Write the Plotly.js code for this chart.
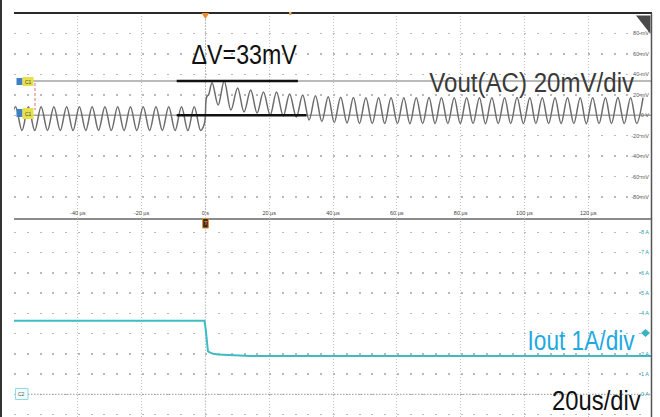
<!DOCTYPE html>
<html><head><meta charset="utf-8">
<script src="https://cdn.plot.ly/plotly-3.0.1.min.js"></script>
<style>html,body{margin:0;padding:0;background:#fff;}#chart{width:660px;height:417px;}</style>
</head><body><div id="chart"></div>
<script>
// ---- data read from the scope capture ----
// Vout (AC) waveform: successive peaks / troughs (µs, mV)
const voutTime = [-61.5,-59.5,-57.5,-55.5,-53.5,-51.5,-49.5,-47.5,-45.5,-43.5,-41.5,-39.5,-37.5,-35.5,-33.5,-31.5,-29.5,-27.5,-25.5,-23.5,-21.5,-19.5,-17.5,-15.5,-13.5,-11.5,-9.5,-7.5,-5.5,-3.5,-1.5,
  -0.3,0.4,1.0,2.1,4.0,5.9,8.0,10.1,12.1,14.2,16.2,18.2,20.3,22.3,24.4,26.4,28.5,30.5,32.5,34.5,36.5,38.5,40.4,42.4,44.4,46.4,48.3,
  50.3,52.3,54.3,56.2,58.2,60.2,62.2,64.1,66.1,68.1,70.1,72.0,74.0,76.0,78.0,79.9,81.9,83.9,85.9,87.8,89.8,91.8,93.8,95.7,97.7,99.7,
  101.7,103.6,105.6,107.6,109.6,111.5,113.5,115.5,117.5,119.4,121.4,123.4,125.4,127.3,129.3,131.3,133.3,135.2,137.2,139.2,141.2];
const voutMv = [-14.9,8.4,-14.9,8.2,-15.0,8.4,-14.8,8.3,-14.9,8.4,-15.0,8.3,-14.9,8.4,-14.8,8.4,-14.9,8.3,-15.0,8.4,-14.9,8.2,-14.9,8.4,-14.8,8.3,-14.9,8.4,-15.0,8.4,-14.9,
  -8.0,18.0,20.0,31.8,10.0,33.5,5.1,26.7,3.2,24.7,2.2,22.7,0.2,22.7,-0.7,20.8,-1.7,19.8,-4.6,19.0,-6.0,18.2,-7.0,17.6,-7.6,17.3,-8.0,
  17.2,-8.1,17.2,-8.1,17.1,-8.1,17.2,-8.2,17.2,-8.1,17.3,-8.1,17.2,-8.0,17.2,-8.1,17.1,-8.1,17.2,-8.2,17.2,-8.1,17.2,-8.1,17.3,-8.1,
  17.2,-8.1,17.2,-8.0,17.2,-8.1,17.1,-8.1,17.2,-8.2,17.2,-8.1,17.2,-8.1,17.3,-8.1,17.2,-8.1,17.2];
// Iout waveform (µs, A)
const ioutTime = [-60,-0.3,0.1,0.4,0.8,1.4,2.4,4,7,10,14,140];
const ioutAmp  = [3.63,3.63,3.2,2.5,2.12,2.07,2.0,1.97,1.94,1.91,1.89,1.89];
// axis ticks
const timeTicks = [-60,-40,-20,0,20,40,60,80,100,120,140];
const timeTickText = ['','-40 µs','-20 µs','0 s','20 µs','40 µs','60 µs','80 µs','100 µs','120 µs',''];
const voltTicks = [-80,-60,-40,-20,0,20,40,60,80];
const voltTickText = ['-80 mV','-60 mV','-40 mV','-20 mV','0 V','20 mV','40 mV','60 mV','80 mV'];
const ampTicks = [-1,0,1,2,3,4,5,6,7,8];
const ampTickText = ['-1 A','0 A','1 A','2 A','','4 A','5 A','6 A','7 A','8 A'];
// cursor levels (mV) and ΔV bar extents (µs)
const cursorLevels = [33.5, 0];
const deltaBarStart = [-9.0, -9.0];
const deltaBarEnd = [29.0, 31.7];

// ---- layout helpers (pixel -> paper) ----
const PX = x => (x - 14) / 638;
const PY = y => (417 - y) / 404;
const BIG = 'Liberation Sans, Arial, sans-serif';
const SMALL = 'Liberation Sans, Arial, sans-serif';

const traces = [
  {x: voutTime, y: voutMv, xaxis: 'x', yaxis: 'y', type: 'scatter', mode: 'lines',
   line: {color: '#6c6c6c', width: 1.5, shape: 'spline', smoothing: 1}, hoverinfo: 'skip'},
  {x: ioutTime, y: ioutAmp, xaxis: 'x2', yaxis: 'y2', type: 'scatter', mode: 'lines',
   line: {color: '#3dbcc4', width: 2, shape: 'linear'}, hoverinfo: 'skip'}
];

const vGrid = {showgrid: true, gridcolor: '#c4c4c4', gridwidth: 1, griddash: '1px,2px'};
const hGridDash = '2px,10.76px';

const layout = {
  width: 660, height: 417,
  margin: {l: 14, r: 8, t: 13, b: 0},
  paper_bgcolor: '#ffffff', plot_bgcolor: '#ffffff',
  showlegend: false,
  xaxis: Object.assign({domain: [0, 1], anchor: 'y', range: [-60, 140], tickvals: timeTicks, ticktext: timeTickText,
    ticks: '', ticklabelposition: 'inside', tickfont: {family: SMALL, size: 5.5, color: '#444'},
    showline: true, linecolor: '#8c8c8c', linewidth: 2, zeroline: false, fixedrange: true}, vGrid),
  xaxis2: Object.assign({domain: [0, 1], anchor: 'y2', matches: 'x', range: [-60, 140], tickvals: timeTicks,
    showticklabels: false, ticks: '', showline: false, zeroline: false, fixedrange: true}, vGrid),
  yaxis: {domain: [0.4938, 1], anchor: 'x', range: [-100, 100], tickvals: voltTicks, ticktext: voltTickText,
    side: 'right', ticks: '', ticklabelposition: 'inside', tickfont: {family: SMALL, size: 5.5, color: '#555'},
    showgrid: true, gridcolor: '#b8b8b8', gridwidth: 1.5, griddash: hGridDash, zeroline: false, showline: false, fixedrange: true},
  yaxis2: {domain: [0, 0.4926], anchor: 'x2', range: [-1.121, 8.706], tickvals: ampTicks, ticktext: ampTickText,
    side: 'right', ticks: '', ticklabelposition: 'inside', tickfont: {family: SMALL, size: 5.5, color: '#2a9fae'},
    showgrid: true, gridcolor: '#b8b8b8', gridwidth: 1.5, griddash: hGridDash, zeroline: false, showline: false, fixedrange: true},
  shapes: [
    {type: 'line', xref: 'paper', yref: 'paper', x0: PX(1), x1: PX(1), y0: PY(0), y1: PY(417), line: {color: '#333', width: 2}},
    {type: 'line', xref: 'paper', yref: 'paper', x0: PX(14), x1: PX(652), y0: PY(13), y1: PY(13), line: {color: '#2a2a2a', width: 2}},
    {type: 'line', xref: 'paper', yref: 'paper', x0: PX(651.5), x1: PX(651.5), y0: PY(13), y1: PY(417), line: {color: '#555', width: 1.5}},
    {type: 'line', xref: 'x', yref: 'paper', x0: 0, x1: 0, y0: 0, y1: 1, layer: 'between', line: {color: '#b0b0b0', width: 1, dash: '1.5px,1.5px'}},
    {type: 'line', xref: 'paper', yref: 'y', x0: PX(33), x1: 1, y0: cursorLevels[0], y1: cursorLevels[0], layer: 'between', line: {color: '#a3a3a3', width: 1.5}},
    {type: 'line', xref: 'paper', yref: 'y', x0: PX(33), x1: 1, y0: cursorLevels[1], y1: cursorLevels[1], layer: 'between', line: {color: '#a3a3a3', width: 1.5}},
    {type: 'line', xref: 'x', yref: 'y', x0: deltaBarStart[0], x1: deltaBarEnd[0], y0: cursorLevels[0], y1: cursorLevels[0], line: {color: '#111', width: 2.5}},
    {type: 'line', xref: 'x', yref: 'y', x0: deltaBarStart[1], x1: deltaBarEnd[1], y0: cursorLevels[1], y1: cursorLevels[1], line: {color: '#111', width: 2.5}},
    {type: 'line', xref: 'paper', yref: 'paper', x0: PX(35), x1: PX(35), y0: PY(83), y1: PY(110), line: {color: '#e0707c', width: 1, dash: '3px,2px'}},
    {type: 'rect', xref: 'paper', yref: 'paper', x0: PX(16.5), x1: PX(22.5), y0: PY(78), y1: PY(85), fillcolor: '#3f7fc4', line: {width: 0}},
    {type: 'rect', xref: 'paper', yref: 'paper', x0: PX(22.5), x1: PX(33.5), y0: PY(77), y1: PY(86), fillcolor: '#e6e14a', line: {width: 0}},
    {type: 'rect', xref: 'paper', yref: 'paper', x0: PX(16.5), x1: PX(22.5), y0: PY(109), y1: PY(117), fillcolor: '#3f7fc4', line: {width: 0}},
    {type: 'rect', xref: 'paper', yref: 'paper', x0: PX(22.5), x1: PX(33.5), y0: PY(108), y1: PY(119), fillcolor: '#e6e14a', line: {width: 0}},
    {type: 'line', xref: 'paper', yref: 'y2', x0: PX(28), x1: 1, y0: 0, y1: 0, line: {color: '#9a9a9a', width: 1, dash: '1.5px,1.5px'}},
    {type: 'rect', xref: 'paper', yref: 'paper', x0: PX(15.5), x1: PX(28), y0: PY(388.5), y1: PY(399.5), fillcolor: '#f2fbfc', line: {color: '#8fdbe2', width: 1}},
    {type: 'path', xref: 'paper', yref: 'paper', path: `M${PX(201.5)},${PY(13)} L${PX(209.3)},${PY(13)} L${PX(205.4)},${PY(19)} Z`, fillcolor: '#f08a2a', line: {width: 0}},
    {type: 'rect', xref: 'paper', yref: 'paper', x0: PX(289), x1: PX(291.5), y0: PY(12), y1: PY(15), fillcolor: '#f0a050', line: {width: 0}},
    {type: 'rect', xref: 'paper', yref: 'paper', x0: PX(202.7), x1: PX(208.3), y0: PY(218.5), y1: PY(228), fillcolor: '#3b2a1c', line: {color: '#e08a30', width: 1}},
    {type: 'path', xref: 'paper', yref: 'paper', path: `M${PX(636)},${PY(15.5)} L${PX(650.5)},${PY(15.5)} L${PX(650.5)},${PY(34)} Z`, fillcolor: '#4a4a4a', line: {width: 0}},
    {type: 'path', xref: 'paper', yref: 'paper', path: `M${PX(641)},${PY(333)} L${PX(645.5)},${PY(329)} L${PX(650)},${PY(333)} L${PX(645.5)},${PY(337)} Z`, fillcolor: '#3ab5c0', line: {width: 0}}
  ],
  annotations: [
    {xref: 'paper', yref: 'paper', x: PX(243.5), y: PY(55.5), xanchor: 'center', yanchor: 'middle', showarrow: false,
     text: 'ΔV=33mV', font: {family: BIG, size: 27, color: '#111'}},
    {xref: 'paper', yref: 'paper', x: PX(635.5), y: PY(82), xanchor: 'right', yanchor: 'middle', showarrow: false,
     text: 'Vout(AC) 20mV/div', font: {family: BIG, size: 28, color: '#3a3a3a'}},
    {xref: 'paper', yref: 'paper', x: PX(636.5), y: PY(340.5), xanchor: 'right', yanchor: 'middle', showarrow: false,
     text: 'Iout 1A/div', font: {family: BIG, size: 27, color: '#1ea9e1'}},
    {xref: 'paper', yref: 'paper', x: PX(642.5), y: PY(401), xanchor: 'right', yanchor: 'middle', showarrow: false,
     text: '20us/div', font: {family: BIG, size: 27, color: '#111'}},
    {xref: 'paper', yref: 'paper', x: PX(28), y: PY(81.5), xanchor: 'center', yanchor: 'middle', showarrow: false,
     text: 'C1', font: {family: SMALL, size: 5, color: '#444'}},
    {xref: 'paper', yref: 'paper', x: PX(28), y: PY(113.5), xanchor: 'center', yanchor: 'middle', showarrow: false,
     text: 'C1', font: {family: SMALL, size: 5, color: '#444'}},
    {xref: 'paper', yref: 'paper', x: PX(21.7), y: PY(394), xanchor: 'center', yanchor: 'middle', showarrow: false,
     text: 'C2', font: {family: SMALL, size: 5, color: '#555'}},
    {xref: 'paper', yref: 'paper', x: PX(205.5), y: PY(223.3), xanchor: 'center', yanchor: 'middle', showarrow: false,
     text: 'T', font: {family: SMALL, size: 6, color: '#f0a050'}}
  ]
};

// horizontal condensing of the large labels (the capture uses a narrow sans face)
const condense = {'ΔV=33mV': [0.86, 'center'], 'Vout(AC) 20mV/div': [0.86, 'right'], 'Iout 1A/div': [0.84, 'right'], '20us/div': [0.88, 'right']};

Plotly.newPlot('chart', traces, layout, {staticPlot: true, displayModeBar: false}).then(function () {
  document.querySelectorAll('#chart .annotation-text').forEach(function (t) {
    const c = condense[t.textContent];
    if (c) {
      t.style.transformBox = 'fill-box';
      t.style.transformOrigin = c[1] + ' center';
      t.style.transform = 'scaleX(' + c[0] + ')';
    }
  });
});
</script>
</body></html>
